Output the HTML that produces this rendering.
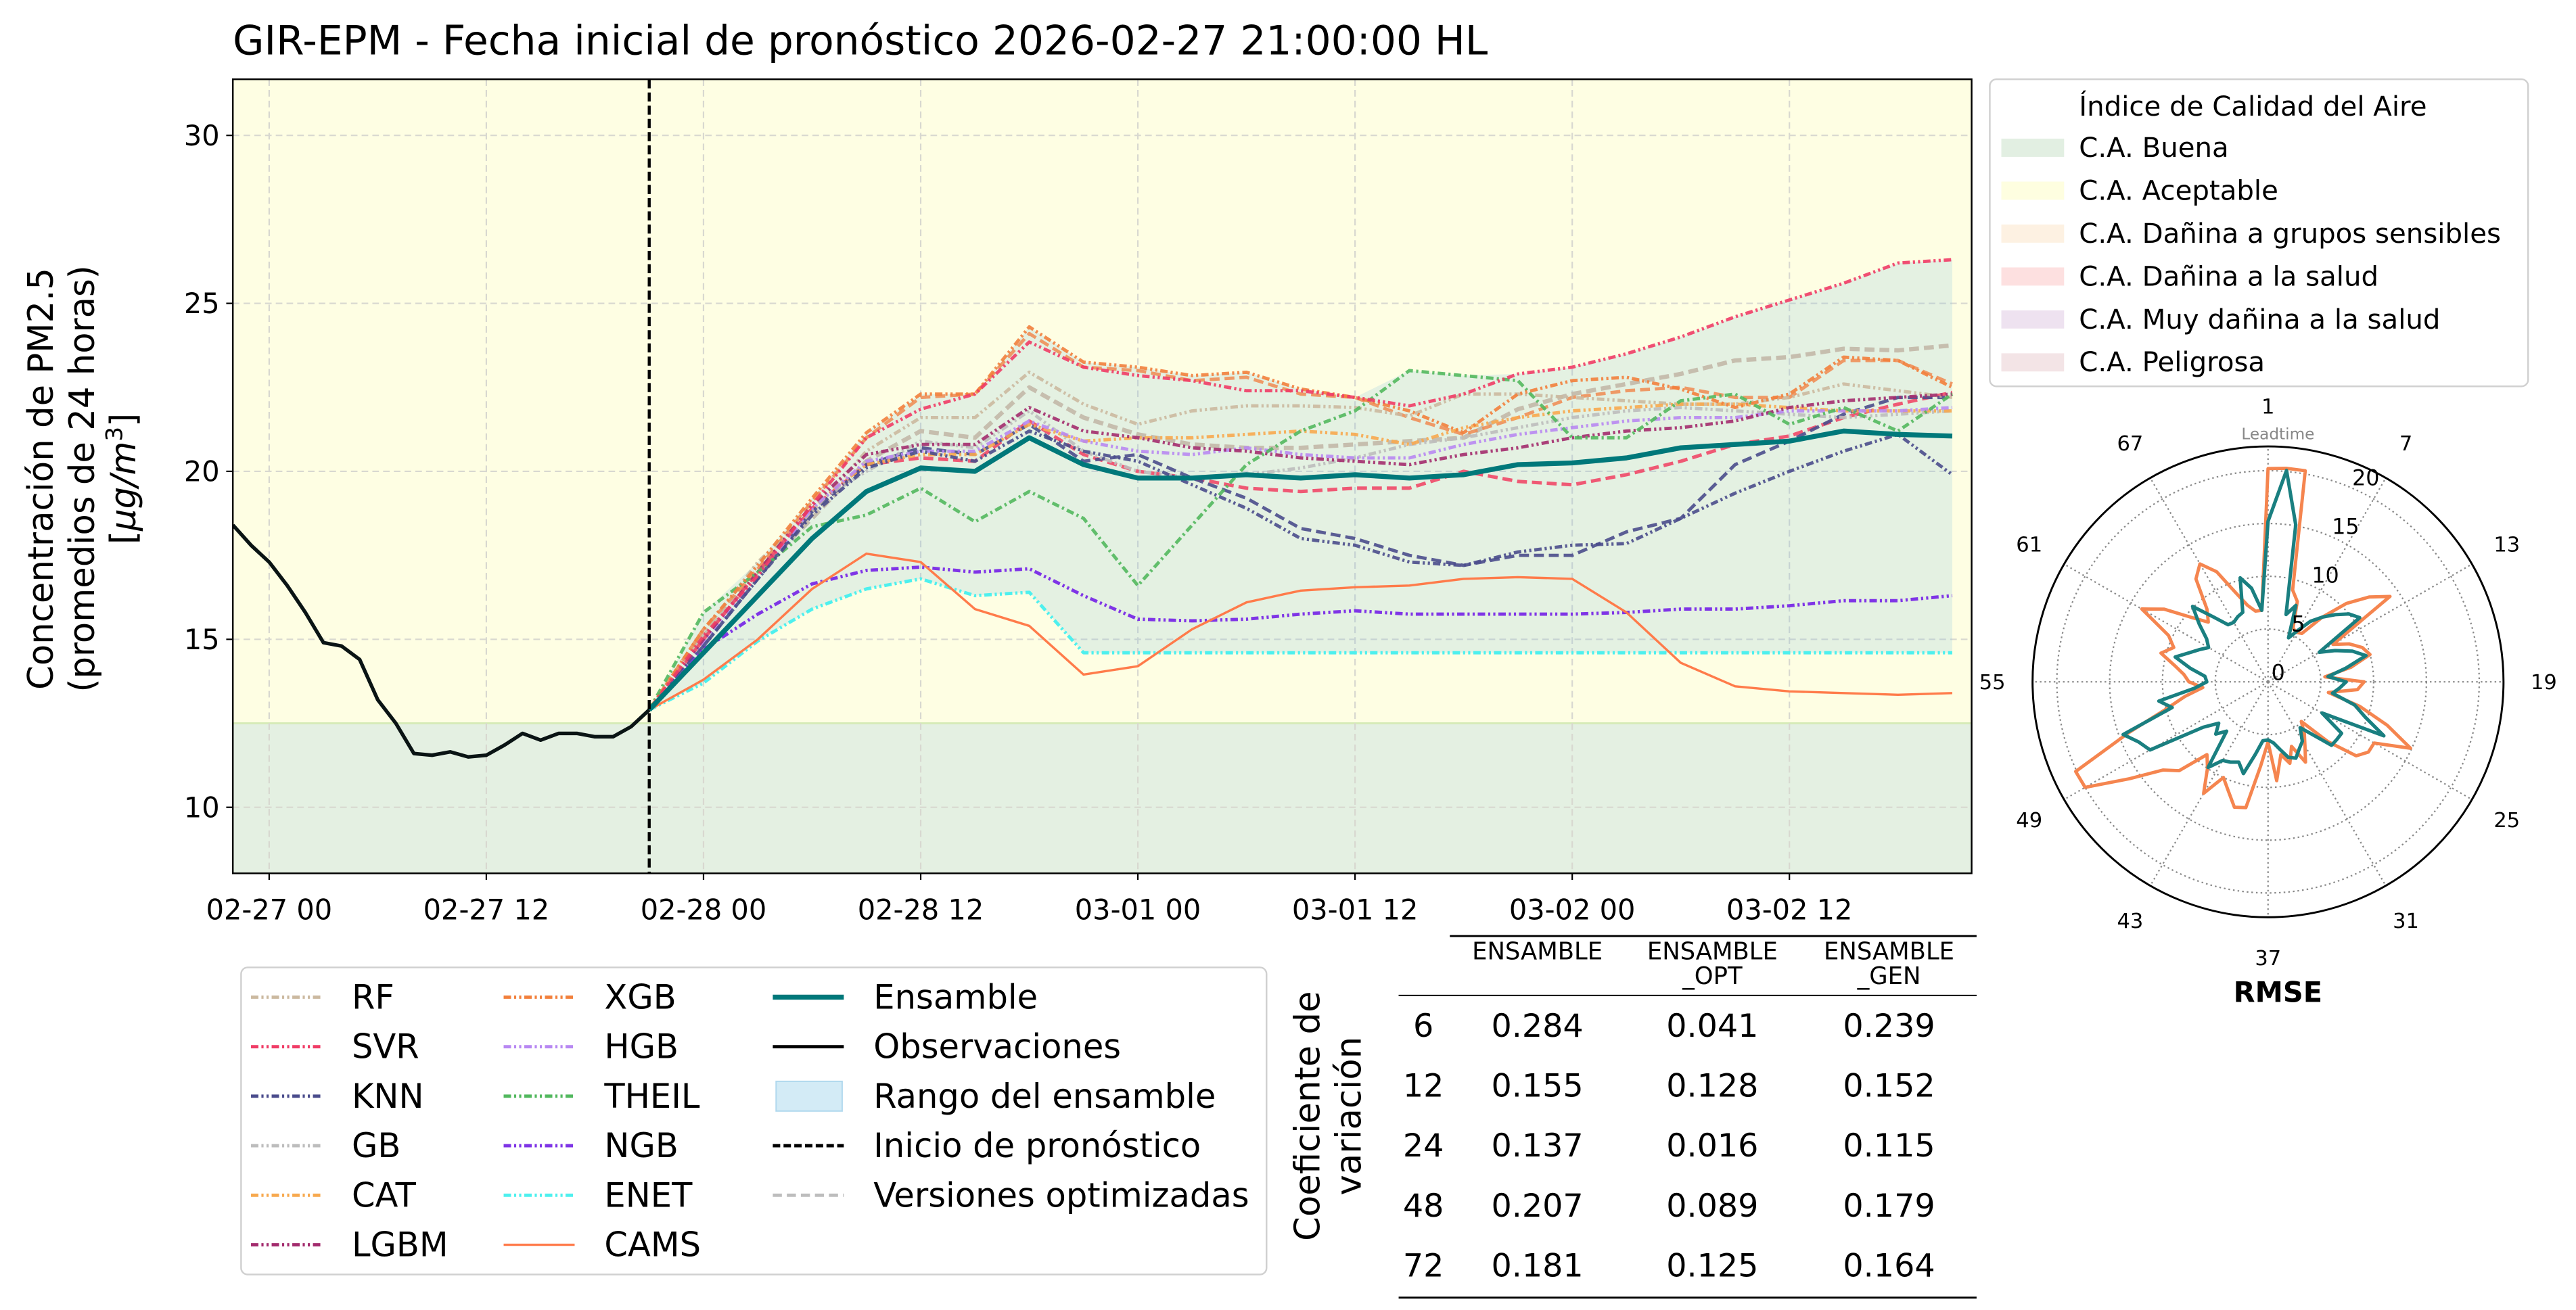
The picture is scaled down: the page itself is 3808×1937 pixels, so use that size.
<!DOCTYPE html>
<html><head><meta charset="utf-8"><style>
html,body{margin:0;padding:0;background:#fff;}
svg{display:block;font-family:"DejaVu Sans","Liberation Sans",sans-serif;}
</style></head><body>
<svg id="fig" width="3808" height="1937" viewBox="0 0 1560 793.5" xmlns="http://www.w3.org/2000/svg">
<rect x="0" y="0" width="1560" height="793.5" fill="#fff"/>
<text x="141" y="33" font-size="24.5" fill="#000">GIR-EPM - Fecha inicial de pronóstico 2026-02-27 21:00:00 HL</text>
<g id="main"></g>
<g id="legend"></g>
<g id="table"></g>
<g id="aqi"></g>
<g id="polar"></g>
</svg>
<script>
// ---------- data ----------
const fcHours = [21,24,27,30,33,36,39,42,45,48,51,54,57,60,63,66,69,72,75,78,81,84,87,90,93];
const obsHours = [-2,-1,0,1,2,3,4,5,6,7,8,9,10,11,12,13,14,15,16,17,18,19,20,21];
const obsVals = [18.4,17.8,17.3,16.6,15.8,14.9,14.8,14.4,13.2,12.5,11.6,11.55,11.65,11.5,11.55,11.85,12.2,12.0,12.2,12.2,12.1,12.1,12.4,12.9];
const ensVals = [12.9,14.6,16.3,18.0,19.4,20.1,20.0,21.0,20.2,19.8,19.8,19.9,19.8,19.9,19.8,19.9,20.2,20.25,20.4,20.7,20.8,20.9,21.2,21.1,21.05];
const rfVals = [12.9,15.2,17.3,18.8,20.6,21.6,21.6,22.95,22.0,21.4,21.8,21.95,21.95,21.9,21.65,22.3,22.3,22.2,22.1,22.0,22.0,22.2,22.6,22.4,22.2];
const svrVals = [12.9,15.1,16.9,19.0,21.0,21.85,22.3,23.85,23.1,22.85,22.7,22.4,22.4,22.2,21.95,22.3,22.9,23.1,23.5,24.0,24.6,25.1,25.6,26.2,26.3];
const knnVals = [12.9,14.8,16.8,18.7,20.1,20.6,20.3,21.2,20.6,20.3,19.6,18.9,18.0,17.8,17.3,17.2,17.6,17.8,17.85,18.6,19.35,20.0,20.6,21.1,19.9];
const gbVals = [12.9,15.0,17.0,19.0,20.0,20.9,20.7,21.8,20.6,20.0,19.8,19.9,20.1,20.4,20.8,21.0,21.3,21.6,21.8,21.9,21.8,21.7,21.6,21.7,21.8];
const catVals = [12.9,15.0,17.0,19.0,20.2,20.5,20.5,21.4,20.9,21.0,21.0,21.1,21.2,21.1,20.8,21.3,21.6,21.8,21.9,22.0,22.0,21.9,21.8,21.8,21.8];
const lgbmVals = [12.9,15.0,17.0,19.0,20.5,20.8,20.8,21.9,21.2,21.0,20.7,20.6,20.4,20.3,20.2,20.5,20.7,21.0,21.2,21.3,21.5,21.9,22.1,22.2,22.3];
const xgbVals = [12.9,15.3,17.2,19.2,21.15,22.3,22.3,24.3,23.25,23.1,22.85,22.95,22.45,22.2,21.8,21.15,22.3,22.7,22.8,22.45,21.9,22.3,23.4,23.3,22.5];
const hgbVals = [12.9,14.9,16.9,18.9,20.3,20.6,20.6,21.5,20.9,20.6,20.5,20.7,20.5,20.4,20.4,20.8,21.1,21.3,21.5,21.6,21.6,21.8,21.8,21.8,21.9];
const theilVals = [12.9,15.8,17.0,18.35,18.7,19.5,18.5,19.4,18.6,16.6,18.4,20.2,21.2,21.8,23.0,22.85,22.7,21.0,21.0,22.1,22.3,21.4,21.9,21.2,22.3];
const ngbVals = [12.9,14.7,15.75,16.65,17.05,17.15,17.0,17.1,16.3,15.6,15.55,15.6,15.75,15.85,15.75,15.75,15.75,15.75,15.8,15.9,15.9,16.0,16.15,16.15,16.3];
const enetVals = [12.9,13.7,14.95,15.9,16.5,16.8,16.3,16.4,14.6,14.6,14.6,14.6,14.6,14.6,14.6,14.6,14.6,14.6,14.6,14.6,14.6,14.6,14.6,14.6,14.6];
const camsVals = [12.9,13.8,15.0,16.5,17.55,17.3,15.9,15.4,13.95,14.2,15.3,16.1,16.45,16.55,16.6,16.8,16.85,16.8,15.8,14.3,13.6,13.45,13.4,13.35,13.4];
const rfOptVals = [12.9,15.1,17.0,18.6,20.3,21.2,21.0,22.5,21.6,21.1,20.8,20.7,20.7,20.8,20.9,21.0,21.85,22.3,22.6,22.9,23.3,23.4,23.65,23.6,23.75];
const svrOptVals = [12.9,15.0,17.0,18.9,20.2,20.4,20.3,21.5,20.5,20.0,19.8,19.5,19.4,19.5,19.5,20.0,19.7,19.6,19.9,20.3,20.8,21.05,21.6,22.0,22.35];
const knnOptVals = [12.9,14.8,16.8,18.8,20.2,20.7,20.5,21.4,20.3,20.5,19.8,19.2,18.3,18.0,17.5,17.2,17.5,17.5,18.2,18.6,20.2,20.9,21.7,22.2,22.2];
const xgbOptVals = [12.9,15.3,17.1,19.1,21.0,22.2,22.3,24.1,23.1,23.0,22.7,22.8,22.3,22.2,21.6,21.1,21.6,22.2,22.4,22.5,22.2,22.2,23.3,23.3,22.6];
const yTicks = [10,15,20,25,30];
const xTickHours = [0,12,24,36,48,60,72,84];
const xTickLabels = ["02-27 00","02-27 12","02-28 00","02-28 12","03-01 00","03-01 12","03-02 00","03-02 12"];
// table
const cvLeads = ["6","12","24","48","72"];
const cvEns = ["0.284","0.155","0.137","0.207","0.181"];
const cvOpt = ["0.041","0.128","0.016","0.089","0.125"];
const cvGen = ["0.239","0.152","0.115","0.179","0.164"];
// polar RMSE (leadtimes 1..72)
const rmseEns = [15.2,20.1,15.1,6.6,7.7,4.6,5.6,7.0,8.0,9.0,10.0,10.6,5.6,7.0,8.5,9.6,7.5,5.7,7.4,6.8,6.2,8.5,9.8,12.1,5.9,8.5,8.5,8.5,6.5,5.3,6.5,7.0,7.7,7.4,6.5,5.8,5.5,5.6,7.0,9.0,8.1,8.4,8.6,9.9,6.1,7.0,6.1,7.5,12.9,13.5,14.6,9.4,10.5,7.0,5.8,6.0,7.5,9.1,8.0,7.2,6.5,7.1,8.5,10.1,8.0,6.6,6.5,6.8,7.0,10.2,9.0,6.8];
const rmseCams = [20.2,20.3,20.3,9.0,8.1,5.6,5.4,5.6,8.0,10.5,12.5,14.1,7.1,8.5,9.5,10.0,8.0,5.4,9.1,8.5,5.8,9.0,12.0,14.9,11.6,11.6,10.9,8.0,4.9,6.0,7.0,8.4,6.5,8.0,7.0,9.4,5.7,8.0,12.1,12.3,11.0,10.0,12.2,10.0,9.0,11.9,13.0,16.0,20.0,20.1,14.0,10.0,8.0,6.2,7.5,8.0,9.0,10.5,9.5,10.4,13.8,12.0,9.5,8.0,9.0,11.9,12.9,11.5,9.0,7.5,6.8,6.8];
const polarTickLabels = ["1","7","13","19","25","31","37","43","49","55","61","67"];
const polarRTicks = [0,5,10,15,20];

// ---------- helpers ----------
const NS="http://www.w3.org/2000/svg";
function mk(parent,tag,attrs,text){const e=document.createElementNS(NS,tag);for(const k in attrs)e.setAttribute(k,attrs[k]);if(text!==undefined)e.textContent=text;parent.appendChild(e);return e;}
const PL=141,PR=1194,PT=48,PB=529;
const xS=h=>163+10.96*h;
const yS=v=>82+(30-v)*20.35;
function pts(hs,vs){return hs.map((h,i)=>xS(h).toFixed(2)+","+yS(vs[i]).toFixed(2)).join(" ");}

// ---------- main plot ----------
const main=document.getElementById('main');
const defs=mk(main,'defs',{});
const cp=mk(defs,'clipPath',{id:'pc'});mk(cp,'rect',{x:PL,y:PT,width:PR-PL,height:PB-PT});
let e;
e=mk(main,'rect',{x:PL,y:PT,width:PR-PL,height:yS(12.5)-PT,fill:'#fefee3'});

e=mk(main,'rect',{x:PL,y:yS(12.5),width:PR-PL,height:PB-yS(12.5),fill:'#e4f0e2'});

mk(main,'line',{x1:PL,x2:PR,y1:yS(12.5),y2:yS(12.5),stroke:'#d6ebb8',"stroke-width":1.2});
const g=mk(main,'g',{'clip-path':'url(#pc)'});
yTicks.forEach(v=>{const l=mk(g,'line',{x1:PL,x2:PR,y1:yS(v),y2:yS(v),stroke:'#d8d8d0',"stroke-width":0.9,"stroke-dasharray":"4 2.5"});
});
xTickHours.forEach(h=>{const l=mk(g,'line',{x1:xS(h),x2:xS(h),y1:PT,y2:PB,stroke:'#d8d8d0',"stroke-width":0.9,"stroke-dasharray":"4 2.5"});
});
const members=[rfVals,svrVals,knnVals,gbVals,catVals,lgbmVals,xgbVals,hgbVals,theilVals,ngbVals,enetVals,rfOptVals,svrOptVals,knnOptVals,xgbOptVals];
const hi=fcHours.map((h,i)=>Math.max(...members.map(m=>m[i])));
const lo=fcHours.map((h,i)=>Math.min(...members.map(m=>m[i])));
const rp=pts(fcHours,hi)+" "+fcHours.slice().reverse().map((h,j)=>{const i=fcHours.length-1-j;return xS(h).toFixed(2)+","+yS(lo[i]).toFixed(2);}).join(" ");
e=mk(g,'polygon',{points:rp,fill:'#87c6e0',"fill-opacity":0.22,stroke:'none'});

const DD="4.5 1.8 1.3 1.8 1.3 1.8", DA="4.5 2 1.3 2", DS="6 3";
const series=[
 ['rf-opt-line',rfOptVals,'#c2b8a8',2.6,DS,0.9],
 ['xgb-opt-line',xgbOptVals,'#f08a50',2.0,DS,0.85],
 ['svr-opt-line',svrOptVals,'#f04868',2.1,DS,0.9],
 ['knn-opt-line',knnOptVals,'#4a4c8c',2.0,DS,0.9],
 ['rf-line',rfVals,'#cbb9a0',2.0,DD,0.9],
 ['gb-line',gbVals,'#bdbdbd',2.0,DD,0.9],
 ['cat-line',catVals,'#f7a94f',2.0,DD,0.9],
 ['hgb-line',hgbVals,'#b888f2',2.0,DD,0.9],
 ['lgbm-line',lgbmVals,'#a32c6e',2.0,DD,0.9],
 ['theil-line',theilVals,'#52b85e',2.0,DA,0.9],
 ['knn-line',knnVals,'#4a4c8c',2.0,DD,0.9],
 ['xgb-line',xgbVals,'#f2803c',2.0,DD,0.9],
 ['svr-line',svrVals,'#f03c66',2.0,DD,0.9],
 ['ngb-line',ngbVals,'#7f35e6',2.0,DD,1],
 ['enet-line',enetVals,'#4ef0ee',2.0,DD,1],
 ['cams-line',camsVals,'#ff7b4a',1.4,'',1],
 ['ensemble-line',ensVals,'#00787a',3.0,'',1]
];
series.forEach(s=>{const p=mk(g,'polyline',{points:pts(fcHours,s[1]),fill:'none',stroke:s[2],"stroke-width":s[3],"stroke-opacity":s[5],"stroke-linejoin":'round'});
if(s[4])p.setAttribute('stroke-dasharray',s[4]);
});
e=mk(g,'polyline',{points:pts(obsHours,obsVals),fill:'none',stroke:'#0a1414',"stroke-width":2.2,"stroke-linejoin":'round'});

e=mk(main,'line',{x1:xS(21),x2:xS(21),y1:PT,y2:PB,stroke:'#000',"stroke-width":1.8,"stroke-dasharray":"5.5 2.5"});

e=mk(main,'rect',{x:PL,y:PT,width:PR-PL,height:PB-PT,fill:'none',stroke:'#000',"stroke-width":1});

yTicks.forEach(v=>{mk(main,'line',{x1:PL-4,x2:PL,y1:yS(v),y2:yS(v),stroke:'#000',"stroke-width":0.9});
const t=mk(main,'text',{x:PL-8,y:yS(v)+6,"font-size":17,"text-anchor":'end'},String(v));
});
xTickHours.forEach((h,i)=>{mk(main,'line',{x1:xS(h),x2:xS(h),y1:PB,y2:PB+4,stroke:'#000',"stroke-width":0.9});
const t=mk(main,'text',{x:xS(h),y:557,"font-size":17,"text-anchor":'middle'},xTickLabels[i]);
});
const yl=mk(main,'text',{transform:'translate(0,290) rotate(-90)',"font-size":21,"text-anchor":'middle'});

mk(yl,'tspan',{x:0,y:32},'Concentración de PM2.5');
mk(yl,'tspan',{x:0,y:57},'(promedios de 24 horas)');
const t3=mk(yl,'tspan',{x:0,y:82});
mk(t3,'tspan',{},'[');mk(t3,'tspan',{"font-style":'italic'},'μg/m');mk(t3,'tspan',{dy:-8,"font-size":14},'3');mk(t3,'tspan',{dy:8},']');

// ---------- models legend ----------
const lg=document.getElementById('legend');
mk(lg,'rect',{x:146,y:586,width:621,height:186,rx:4,fill:'#fff',stroke:'#d0d0d0',"stroke-width":1});
const legItems=[
 [152,604,'RF','#cbb9a0',DD,2],[152,634,'SVR','#f03c66',DD,2],[152,664,'KNN','#4a4c8c',DD,2],[152,694,'GB','#bdbdbd',DD,2],[152,724,'CAT','#f7a94f',DD,2],[152,754,'LGBM','#a32c6e',DD,2],
 [305,604,'XGB','#f2803c',DD,2],[305,634,'HGB','#b888f2',DD,2],[305,664,'THEIL','#52b85e',DD,2],[305,694,'NGB','#7f35e6',DD,2],[305,724,'ENET','#4ef0ee',DD,2],[305,754,'CAMS','#ff7b4a','',1.4],
 [468,604,'Ensamble','#00787a','',3],[468,634,'Observaciones','#000','',2],[468,664,'Rango del ensamble',null,'',0],[468,694,'Inicio de pronóstico','#000','4.5 2',2],[468,724,'Versiones optimizadas','#bdbdbd','5.5 3',2]
];
legItems.forEach(it=>{const grp=mk(lg,'g',{});

if(it[3]===null){mk(grp,'rect',{x:it[0]+2,y:it[1]-9,width:40,height:18,fill:'#d3ebf6',stroke:'#b0d8ee',"stroke-width":0.8});}
else{const l=mk(grp,'line',{x1:it[0],x2:it[0]+43,y1:it[1],y2:it[1],stroke:it[3],"stroke-width":it[5]});if(it[4])l.setAttribute('stroke-dasharray',it[4]);}
mk(grp,'text',{x:it[0]+61,y:it[1]+7,"font-size":20.3},it[2]);});

// ---------- CV table ----------
const tb=document.getElementById('table');
const cvl=mk(tb,'text',{transform:'translate(0,676) rotate(-90)',"font-size":21,"text-anchor":'middle'});

mk(cvl,'tspan',{x:0,y:799},'Coeficiente de');mk(cvl,'tspan',{x:0,y:824},'variación');
mk(tb,'line',{x1:878,x2:1197,y1:567,y2:567,stroke:'#000',"stroke-width":1.2});
mk(tb,'line',{x1:847,x2:1197,y1:603,y2:603,stroke:'#000',"stroke-width":0.9});
mk(tb,'line',{x1:847,x2:1197,y1:786,y2:786,stroke:'#000',"stroke-width":1.2});
[[931,['ENSAMBLE']],[1037,['ENSAMBLE','_OPT']],[1144,['ENSAMBLE','_GEN']]].forEach(h=>{h[1].forEach((s,k)=>{
const t=mk(tb,'text',{x:h[0],y:581+k*15,"font-size":14.5,"text-anchor":'middle'},s);});});
cvLeads.forEach((ld,i)=>{const y=628+i*36.3;
let t=mk(tb,'text',{x:862,y:y,"font-size":19.5,"text-anchor":'middle'},ld);
[[931,cvEns],[1037,cvOpt],[1144,cvGen]].forEach(c=>{t=mk(tb,'text',{x:c[0],y:y,"font-size":19.5,"text-anchor":'middle'},c[1][i]);
});});

// ---------- AQI legend ----------
const aq=document.getElementById('aqi');
mk(aq,'rect',{x:1205,y:48,width:326,height:186,rx:4,fill:'#fff',stroke:'#d0d0d0',"stroke-width":1});
mk(aq,'text',{x:1259,y:70,"font-size":16.5},'Índice de Calidad del Aire');
const aqiNames=['C.A. Buena','C.A. Aceptable','C.A. Dañina a grupos sensibles','C.A. Dañina a la salud','C.A. Muy dañina a la salud','C.A. Peligrosa'];
const aqiColors=['#e2efe2','#fefee0','#fdf1e2','#fde0e0','#eee2f0','#f3e4e6'];
aqiNames.forEach((n,i)=>{const grp=mk(aq,'g',{});

mk(grp,'rect',{x:1212,y:84+i*26,width:38,height:11,fill:aqiColors[i]});
mk(grp,'text',{x:1259,y:95+i*26,"font-size":16.5},n);});

// ---------- polar ----------
const po=document.getElementById('polar');
const CX=1373.5,CY=413,R=142.6,RMAX=22.3;
const rS=v=>v*R/RMAX;
const pXY=(i,v)=>{const a=i*5*Math.PI/180;return [CX+rS(v)*Math.sin(a),CY-rS(v)*Math.cos(a)];};
polarRTicks.slice(1).forEach(v=>{mk(po,'circle',{cx:CX,cy:CY,r:rS(v),fill:'none',stroke:'#888',"stroke-width":0.9,"stroke-dasharray":"1 1.8"});});
for(let k=0;k<12;k++){const a=k*30*Math.PI/180;mk(po,'line',{x1:CX,y1:CY,x2:CX+R*Math.sin(a),y2:CY-R*Math.cos(a),stroke:'#888',"stroke-width":0.9,"stroke-dasharray":"1 1.8"});}
function polyR(arr){return arr.map((v,i)=>pXY(i,v).map(n=>n.toFixed(2)).join(",")).join(" ");}
e=mk(po,'polygon',{points:polyR(rmseCams),fill:'none',stroke:'#f5854f',"stroke-width":2,"stroke-linejoin":'round'});

e=mk(po,'polygon',{points:polyR(rmseEns),fill:'none',stroke:'#1a7f80',"stroke-width":2.1,"stroke-linejoin":'round'});

mk(po,'circle',{cx:CX,cy:CY,r:R,fill:'none',stroke:'#000',"stroke-width":1.2});
polarTickLabels.forEach((s,k)=>{const a=k*30*Math.PI/180;const t=mk(po,'text',{x:CX+167*Math.sin(a),y:CY-167*Math.cos(a)+4.5,"font-size":12.5,"text-anchor":'middle'},s);
});
polarRTicks.forEach(v=>{const a=22.5*Math.PI/180;const t=mk(po,'text',{x:CX+rS(v)*Math.sin(a)+2,y:CY-rS(v)*Math.cos(a)-1,"font-size":13},String(v));
});
mk(po,'text',{x:CX+6,y:266,"font-size":9.5,fill:'#888',"text-anchor":'middle'},'Leadtime');
e=mk(po,'text',{x:CX+6,y:607,"font-size":17,"font-weight":'bold',"text-anchor":'middle'},'RMSE');

</script>
</body></html>
